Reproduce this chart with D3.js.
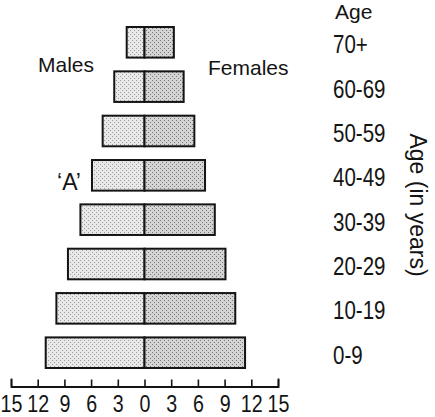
<!DOCTYPE html>
<html>
<head>
<meta charset="utf-8">
<script src="https://cdn.jsdelivr.net/npm/d3@7"></script>
<style>
  html, body { margin: 0; padding: 0; background: #ffffff; }
  svg { display: block; }
</style>
</head>
<body>
<svg id="chart" width="435" height="417"></svg>
<script>
// ---- data ----
const ageGroups = ["0-9", "10-19", "20-29", "30-39", "40-49", "50-59", "60-69", "70+"];
const males     = [11.1, 9.9, 8.6, 7.2, 5.9, 4.7, 3.4, 2.0];
const females   = [11.3, 10.2, 9.1, 7.9, 6.8, 5.6, 4.4, 3.3];
const axisTicks = [-15, -12, -9, -6, -3, 0, 3, 6, 9, 12, 15];
const titleAge = "Age";
const titleAxis = "Age (in years)";
const labelMales = "Males";
const labelFemales = "Females";
const labelA = "\u2018A\u2019";

const svg = d3.select("#chart");
const ink = "#141414";
const regular = "'Liberation Sans', Arial, Helvetica, sans-serif";
const squeeze = 0.82; // narrow, condensed look of the numerals

// textures
const defs = svg.append("defs");
function stipple(id, bg, dot) {
  const p = defs.append("pattern").attr("id", id)
    .attr("patternUnits", "userSpaceOnUse").attr("width", 4).attr("height", 4);
  p.append("rect").attr("width", 4).attr("height", 4).attr("fill", bg);
  p.append("rect").attr("x", 0).attr("y", 0).attr("width", 1).attr("height", 1).attr("fill", dot);
  p.append("rect").attr("x", 2).attr("y", 2).attr("width", 1).attr("height", 1).attr("fill", dot);
}
stipple("maleFill", "#e9e9e9", "#9a9a9a");
stipple("femaleFill", "#d4d4d4", "#777777");

// scales
const x = d3.scaleLinear().domain([-15, 15]).range([11, 278]);
const y = d3.scaleBand().domain(ageGroups.slice().reverse()).range([27, 368])
  .paddingInner(0.31).paddingOuter(0);

const rows = ageGroups.map((g, i) => ({ g, m: males[i], f: females[i] }));

// bars
const bars = svg.append("g");
bars.selectAll("rect.m").data(rows).join("rect").attr("class", "m")
  .attr("x", d => x(-d.m)).attr("y", d => y(d.g))
  .attr("width", d => x(0) - x(-d.m)).attr("height", y.bandwidth())
  .attr("fill", "url(#maleFill)").attr("stroke", ink).attr("stroke-width", 2);
bars.selectAll("rect.f").data(rows).join("rect").attr("class", "f")
  .attr("x", x(0)).attr("y", d => y(d.g))
  .attr("width", d => x(d.f) - x(0)).attr("height", y.bandwidth())
  .attr("fill", "url(#femaleFill)").attr("stroke", ink).attr("stroke-width", 2);

// axis
const axis = d3.axisBottom(x).tickValues(axisTicks)
  .tickFormat(d => Math.abs(d)).tickSizeInner(-7).tickSizeOuter(-8).tickPadding(8);
const ax = svg.append("g").attr("transform", "translate(0,386.5)").call(axis);
ax.select(".domain").attr("stroke", ink).attr("stroke-width", 1.8);
ax.selectAll(".tick line").attr("stroke", ink).attr("stroke-width", 1.6);
ax.selectAll(".tick text").attr("fill", ink)
  .attr("transform", `scale(${squeeze},1)`)
  .style("font-family", regular).style("font-size", "24px");

// age labels
svg.append("g").selectAll("g").data(ageGroups).join("g")
  .attr("transform", d => `translate(333,${y(d) + y.bandwidth() / 2 + 2}) scale(${squeeze},1)`)
  .append("text").attr("dy", "0.36em")
  .attr("fill", ink).style("font-family", regular).style("font-size", "25px")
  .text(d => d);

// other text
function txt(str, xx, yy, size, anchor) {
  return svg.append("text").attr("x", xx).attr("y", yy).attr("text-anchor", anchor || "start")
    .attr("fill", ink).style("font-family", regular).style("font-size", size + "px").text(str);
}
txt(titleAge, 335, 18.5, 21);
txt(labelMales, 38, 71.7, 21);
txt(labelFemales, 208, 75, 21);
txt(labelA, 69, 190, 23, "middle");

svg.append("text").attr("transform", "translate(410,205) rotate(90)")
  .attr("text-anchor", "middle").attr("fill", ink)
  .style("font-family", regular).style("font-size", "23px").text(titleAxis);
</script>
</body>
</html>
